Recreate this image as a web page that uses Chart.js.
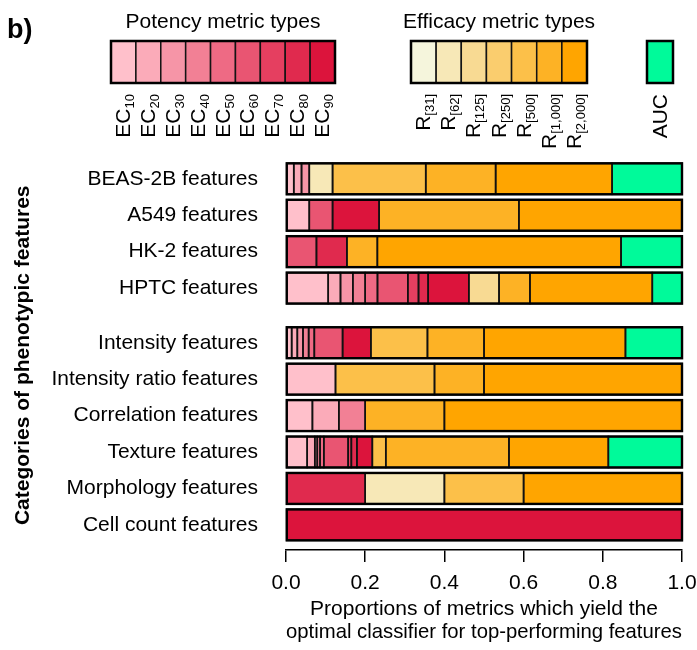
<!DOCTYPE html>
<html>
<head>
<meta charset="utf-8">
<script src="https://cdn.jsdelivr.net/npm/chart.js@4.4.1/dist/chart.umd.min.js"></script>
<style>
    body { margin: 0; background: #ffffff; }
    #wrap { width: 697px; height: 650px; position: relative; }
</style>
</head>
<body>
<div id="wrap"><canvas id="metricChart"></canvas></div>
<script>
// categories (top to bottom) and their positions on the index axis (gap after HPTC)
const categories = [
    'BEAS-2B features', 'A549 features', 'HK-2 features', 'HPTC features',
    'Intensity features', 'Intensity ratio features', 'Correlation features',
    'Texture features', 'Morphology features', 'Cell count features'
];
const rowPositions = [0, 1, 2, 3, 4.5, 5.5, 6.5, 7.5, 8.5, 9.5];

// proportions per metric type, one value per category
const ec10  = [0.0196, 0.0588, 0,      0.1066, 0.0143, 0.125, 0.0667, 0.0535, 0,   0];
const ec20  = [0.0196, 0,      0,      0.0310, 0.0143, 0,     0.0667, 0.0192, 0,   0];
const ec30  = [0.0196, 0,      0,      0.0312, 0.0143, 0,     0,      0.0063, 0,   0];
const ec40  = [0,      0,      0,      0.0312, 0.0143, 0,     0.0666, 0.0070, 0,   0];
const ec50  = [0,      0,      0,      0.0310, 0.0143, 0,     0,      0.0095, 0,   0];
const ec60  = [0,      0.0588, 0.0769, 0.0766, 0.0714, 0,     0,      0.0615, 0,   0];
const ec70  = [0,      0,      0,      0.0270, 0,      0,     0,      0.0080, 0,   0];
const ec80  = [0,      0,      0.0769, 0.0244, 0,      0,     0,      0.0140, 0.2, 0];
const ec90  = [0,      0.1176, 0,      0.1027, 0.0714, 0,     0,      0.0390, 0,   1];
const r31   = [0,      0,      0,      0,      0,      0,     0,      0,      0,   0];
const r62   = [0.0588, 0,      0,      0,      0,      0,     0,      0,      0.2, 0];
const r125  = [0,      0,      0,      0.0763, 0,      0,     0,      0,      0,   0];
const r250  = [0,      0,      0,      0,      0,      0,     0,      0,      0,   0];
const r500  = [0.2353, 0,      0,      0,      0.1429, 0.25,  0,      0.0340, 0.2, 0];
const r1000 = [0.1765, 0.3529, 0.0769, 0.0780, 0.1429, 0.125, 0.2,    0.3110, 0,   0];
const r2000 = [0.2941, 0.4118, 0.6154, 0.3090, 0.3571, 0.5,   0.6,    0.2510, 0.4, 0];
const auc   = [0.1765, 0,      0.1538, 0.0750, 0.1429, 0,     0,      0.1860, 0,   0];

const potencySeries = [ec10, ec20, ec30, ec40, ec50, ec60, ec70, ec80, ec90];
const efficacySeries = [r31, r62, r125, r250, r500, r1000, r2000];

// legend labels (main part + subscript)
const potencySubs = ['10', '20', '30', '40', '50', '60', '70', '80', '90'];
const efficacySubs = ['[31]', '[62]', '[125]', '[250]', '[500]', '[1,000]', '[2,000]'];

// colours: pink -> crimson, beige -> orange, springgreen
const potencyColors = ['#FFC0CB', '#FBABB9', '#F695A7', '#F28095', '#EE6A84',
                       '#E95572', '#E53F60', '#E02A4E', '#DC143C'];
const efficacyColors = ['#F5F5DC', '#F7E8B7', '#F8DA93', '#FACD6E', '#FCC049',
                        '#FDB225', '#FFA500'];
const aucColor = '#00FA9A';

const FONT = '"Liberation Sans", Arial, Helvetica, sans-serif';
Chart.defaults.font.family = FONT;
Chart.defaults.color = '#000000';

function makeDataset(label, values, color) {
    return {
        label: label,
        data: values.map((v, i) => ({ x: v, y: rowPositions[i] })).filter(d => d.x > 0),
        backgroundColor: color,
        borderWidth: 0,
        inflateAmount: 0,
        barPercentage: 1,
        categoryPercentage: 0.85
    };
}

const datasets = [];
potencySeries.forEach((s, i) => datasets.push(makeDataset('EC' + potencySubs[i], s, potencyColors[i])));
efficacySeries.forEach((s, i) => datasets.push(makeDataset('R' + efficacySubs[i], s, efficacyColors[i])));
datasets.push(makeDataset('AUC', auc, aucColor));

// vertical label: main text + lowered subscript, reading bottom to top, ending at topY
function drawRotatedLabel(ctx, cx, topY, main, sub) {
    ctx.save();
    ctx.translate(cx, topY);
    ctx.rotate(-Math.PI / 2);
    ctx.textAlign = 'left';
    ctx.textBaseline = 'alphabetic';
    ctx.font = '21px ' + FONT;
    const wMain = ctx.measureText(main).width;
    ctx.font = '13px ' + FONT;
    const wSub = sub ? ctx.measureText(sub).width : 0;
    ctx.font = '21px ' + FONT;
    ctx.fillText(main, -(wMain + wSub), 6.5);
    if (sub) {
        ctx.font = '13px ' + FONT;
        ctx.fillText(sub, -wSub, 10.5);
    }
    ctx.restore();
}

function drawLegendGroup(ctx, title, x, width, colors, main, subs) {
    const top = 41, h = 42;
    const w = width / colors.length;
    if (title) {
        ctx.font = '21px ' + FONT;
        ctx.textAlign = 'center';
        ctx.textBaseline = 'middle';
        ctx.fillStyle = '#000';
        ctx.fillText(title, x + width / 2, 22);
    }
    colors.forEach((c, i) => {
        ctx.fillStyle = c;
        ctx.fillRect(x + i * w, top, w, h);
        ctx.lineWidth = 1.5;
        ctx.strokeStyle = '#141414';
        ctx.strokeRect(x + i * w, top, w, h);
        ctx.fillStyle = '#000';
        drawRotatedLabel(ctx, x + (i + 0.5) * w, 94, main, subs[i]);
    });
    ctx.lineWidth = 2.5;
    ctx.strokeStyle = '#000';
    ctx.strokeRect(x, top, width, h);
}

const legendPlugin = {
    id: 'metricLegend',
    afterDraw(chart) {
        const ctx = chart.ctx;
        ctx.save();
        ctx.fillStyle = '#000';
        ctx.font = 'bold 27px ' + FONT;
        ctx.textAlign = 'left';
        ctx.textBaseline = 'alphabetic';
        ctx.fillText('b)', 7, 38);
        drawLegendGroup(ctx, 'Potency metric types', 111, 224, potencyColors, 'EC', potencySubs);
        drawLegendGroup(ctx, 'Efficacy metric types', 411, 176, efficacyColors, 'R', efficacySubs);
        drawLegendGroup(ctx, null, 647, 26, [aucColor], 'AUC', ['']);
        ctx.restore();
    }
};

// black edges round every segment, a heavier outline round each whole bar
const outlinePlugin = {
    id: 'rowOutline',
    afterDatasetsDraw(chart) {
        const ctx = chart.ctx;
        const rows = {};
        ctx.save();
        ctx.strokeStyle = '#111';
        ctx.lineWidth = 1.6;
        chart.data.datasets.forEach((ds, di) => {
            chart.getDatasetMeta(di).data.forEach(el => {
                const p = el.getProps(['x', 'y', 'base', 'height'], true);
                const left = Math.min(p.x, p.base), right = Math.max(p.x, p.base);
                const top = p.y - p.height / 2;
                ctx.strokeRect(left, top, right - left, p.height);
                const key = Math.round(p.y);
                const r = rows[key] || (rows[key] = { l: Infinity, r: -Infinity, t: top, h: p.height });
                r.l = Math.min(r.l, left);
                r.r = Math.max(r.r, right);
            });
        });
        ctx.lineWidth = 2.4;
        ctx.strokeStyle = '#000';
        Object.values(rows).forEach(r => ctx.strokeRect(r.l, r.t, r.r - r.l, r.h));
        ctx.restore();
    }
};

const ctx = document.getElementById('metricChart').getContext('2d');
new Chart(ctx, {
    type: 'bar',
    data: { datasets: datasets },
    options: {
        indexAxis: 'y',
        responsive: true,
        maintainAspectRatio: false,
        animation: false,
        devicePixelRatio: 1,
        layout: { padding: { top: 160.6, right: 15, bottom: 0, left: 0 } },
        plugins: {
            legend: { display: false },
            tooltip: { enabled: false }
        },
        scales: {
            x: {
                type: 'linear',
                stacked: true,
                min: 0,
                max: 1,
                afterFit(scale) {
                    scale.height = 100;
                    scale.paddingLeft = 0;
                    scale.paddingRight = 0;
                },
                grid: {
                    display: true,
                    drawOnChartArea: false,
                    drawTicks: true,
                    tickLength: 12,
                    color: '#000',
                    lineWidth: 1.5
                },
                border: { display: true, color: '#000', width: 1.5 },
                ticks: {
                    stepSize: 0.2,
                    padding: 9,
                    maxRotation: 0,
                    font: { size: 21 },
                    callback: v => v.toFixed(1)
                },
                title: {
                    display: true,
                    text: ['Proportions of metrics which yield the',
                           'optimal classifier for top-performing features'],
                    font: { size: 21, lineHeight: 1.07 },
                    padding: { top: 0, bottom: 7 }
                }
            },
            y: {
                type: 'linear',
                stacked: true,
                reverse: true,
                offset: false,
                min: -0.5,
                max: 10.19,
                afterFit(scale) { scale.width = 286; },
                afterBuildTicks(scale) {
                    scale.ticks = rowPositions.map(v => ({ value: v }));
                },
                grid: { display: false },
                border: { display: false },
                ticks: {
                    autoSkip: false,
                    padding: 20,
                    font: { size: 21 },
                    callback: v => categories[rowPositions.indexOf(v)]
                },
                title: {
                    display: true,
                    text: 'Categories of phenotypic features',
                    font: { size: 21, weight: 'bold' },
                    padding: { top: 11, bottom: 0 }
                }
            }
        }
    },
    plugins: [legendPlugin, outlinePlugin]
});
</script>
</body>
</html>
